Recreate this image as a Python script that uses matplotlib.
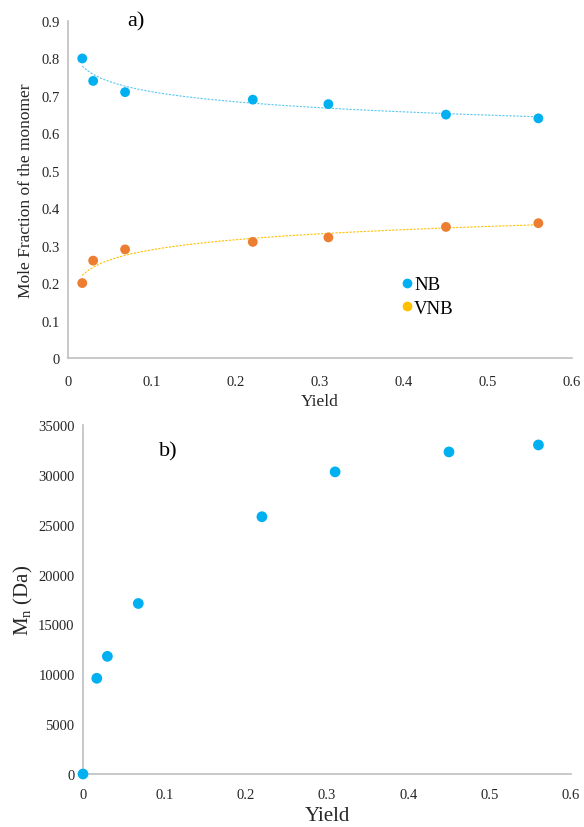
import numpy as np
import matplotlib
matplotlib.use("Agg")
import matplotlib.pyplot as plt
from matplotlib.lines import Line2D

plt.rcParams['font.family'] = ['Liberation Serif', 'DejaVu Serif']
plt.rcParams['mathtext.fontset'] = 'custom'
plt.rcParams['mathtext.rm'] = 'Liberation Serif'
plt.rcParams['mathtext.it'] = 'Liberation Serif:italic'

# Data
yield_frac = [0.017, 0.030, 0.068, 0.220, 0.310, 0.450, 0.560]
nb_frac = [0.80, 0.74, 0.71, 0.69, 0.678, 0.65, 0.64]
vnb_frac = [0.20, 0.26, 0.29, 0.31, 0.322, 0.35, 0.36]

yield_mn = [0.0, 0.017, 0.030, 0.068, 0.220, 0.310, 0.450, 0.560]
mn_values = [0, 9600, 11800, 17100, 25800, 30300, 32300, 33000]

blue = '#00B0F0'
orange = '#ED7D31'
yellow = '#FFC000'
spine_c = '#BFBFBF'
txt_c = '#262626'

fig = plt.figure(figsize=(5.84, 8.28), dpi=100)

# ---- top panel ----
ax1 = fig.add_axes([0.1164, 0.5665, 0.863, 0.4069])
x = np.array(yield_frac)
for vals, col in ((nb_frac, '#5BC8F0'), (vnb_frac, yellow)):
    a, b = np.polyfit(np.log(x), np.array(vals), 1)
    xf = np.linspace(x.min(), x.max(), 200)
    ax1.plot(xf, a * np.log(xf) + b, ls=(0, (2, 1.2)), lw=0.8, color=col, zorder=2)
ax1.scatter(yield_frac, nb_frac, s=50, color=blue, edgecolors='none', zorder=3)
ax1.scatter(yield_frac, vnb_frac, s=50, color=orange, edgecolors='none', zorder=3)
ax1.set_xlim(0, 0.6)
ax1.set_ylim(0, 0.9)
ax1.set_xticks(np.arange(0, 0.61, 0.1))
ax1.set_xticklabels(['0', '0.1', '0.2', '0.3', '0.4', '0.5', '0.6'])
ax1.set_yticks(np.arange(0, 0.91, 0.1))
ax1.set_yticklabels(['0', '0.1', '0.2', '0.3', '0.4', '0.5', '0.6', '0.7', '0.8', '0.9'])
ax1.set_xlabel('Yield', fontsize=12.5, color=txt_c, labelpad=4)
ax1.set_ylabel('Mole Fraction of the monomer', fontsize=12.5, color=txt_c, labelpad=5)
ax1.text(0.081, 0.9, 'a)', fontsize=16, ha='center', va='center', color='black')
handles = [Line2D([], [], marker='o', ls='', color=blue, markersize=7, markeredgewidth=0),
           Line2D([], [], marker='o', ls='', color=yellow, markersize=7, markeredgewidth=0)]
ax1.legend(handles, ['NB', 'VNB'], loc='upper left', bbox_to_anchor=(0.635, 0.265),
           frameon=False, fontsize=13.5, handletextpad=-0.2, handlelength=1.2,
           labelspacing=0.35, borderaxespad=0)

# ---- bottom panel ----
ax2 = fig.add_axes([0.1421, 0.0640, 0.8356, 0.4215])
ax2.scatter(yield_mn, mn_values, s=60, color=blue, edgecolors='none', zorder=3, clip_on=False)
ax2.set_xlim(0, 0.6)
ax2.set_ylim(0, 35000)
ax2.set_xticks(np.arange(0, 0.61, 0.1))
ax2.set_xticklabels(['0', '0.1', '0.2', '0.3', '0.4', '0.5', '0.6'])
ax2.set_yticks(np.arange(0, 35001, 5000))
ax2.set_xlabel('Yield', fontsize=15, color=txt_c, labelpad=4)
ax2.set_ylabel('M$_{\\mathrm{n}}$ (Da)', fontsize=15, color=txt_c, labelpad=2)
ax2.text(0.105, 32400, 'b)', fontsize=16, ha='center', va='center', color='black')

for ax in (ax1, ax2):
    for s in ('top', 'right'):
        ax.spines[s].set_visible(False)
    for s in ('left', 'bottom'):
        ax.spines[s].set_color(spine_c)
        ax.spines[s].set_linewidth(1.2)
    ax.tick_params(axis='y', length=0, labelsize=10.5, colors=txt_c, pad=6)
ax1.tick_params(axis='x', length=0, labelsize=10.5, colors=txt_c, pad=12)
ax2.tick_params(axis='x', length=0, labelsize=10.5, colors=txt_c, pad=10)

fig.savefig('out.png', dpi=100)
